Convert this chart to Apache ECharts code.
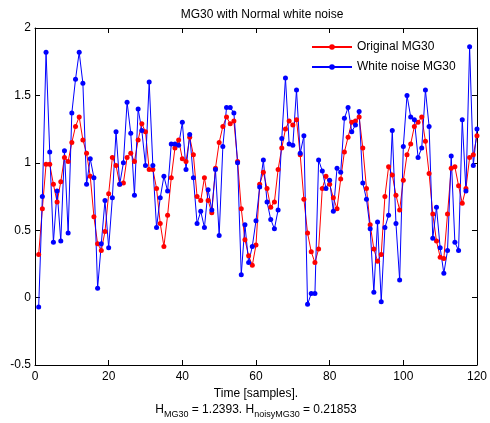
<!DOCTYPE html>
<html><head><meta charset="utf-8">
<script src="https://cdn.jsdelivr.net/npm/echarts@6/dist/echarts.min.js"></script>
<style>html,body{margin:0;padding:0;background:#fff}#c{width:490px;height:423px}</style>
</head><body><div id="c"></div>
<script>
const titleText = 'MG30 with Normal white noise';
const xAxisName = 'Time [samples].';
const seriesNames = ['Original MG30', 'White noise MG30'];
const xTicks = [0, 20, 40, 60, 80, 100, 120];
const yTicks = [-0.5, 0, 0.5, 1, 1.5, 2];
const entropyOriginal = '1.2393';
const entropyNoisy = '0.21853';

const original = [
  0.32, 0.66, 0.99, 0.99, 0.84, 0.71, 0.86, 1.04, 1.01, 1.15,
  1.27, 1.34, 1.17, 1.07, 0.90, 0.60, 0.40, 0.35, 0.49, 0.77,
  1.04, 0.98, 0.84, 0.85, 1.04, 1.07, 1.01, 1.17, 1.29, 1.23,
  0.95, 0.95, 0.81, 0.55, 0.38, 0.61, 0.89, 1.11, 1.17, 1.03,
  1.01, 1.19, 1.06, 0.75, 0.72, 0.89, 0.72, 0.63, 0.96, 1.15,
  1.27, 1.34, 1.29, 1.31, 1.01, 0.66, 0.43, 0.31, 0.24, 0.39,
  0.84, 0.93, 0.81, 0.67, 0.71, 0.95, 1.11, 1.25, 1.31, 1.28,
  1.32, 1.06, 0.73, 0.48, 0.34, 0.26, 0.36, 0.81, 0.90, 0.84,
  0.74, 0.66, 0.88, 1.08, 1.19, 1.30, 1.31, 1.34, 1.11, 0.81,
  0.54, 0.36, 0.27, 0.32, 0.75, 0.97, 0.91, 0.76, 0.65, 0.87,
  1.06, 1.14, 1.27, 1.30, 1.34, 1.16, 0.92, 0.62, 0.42, 0.30,
  0.29, 0.62, 0.96, 0.97, 0.83, 0.70, 0.81, 1.04, 1.06, 1.20
];
const noisy = [
  -0.07, 0.75, 1.82, 1.08, 0.41, 0.79, 0.42, 1.09, 0.48, 1.37,
  1.62, 1.82, 1.59, 0.84, 1.03, 0.89, 0.07, 0.40, 0.72, 0.37,
  0.74, 1.23, 0.84, 1.00, 1.45, 1.22, 0.76, 1.40, 1.24, 0.98,
  1.60, 0.98, 0.52, 0.74, 0.90, 0.79, 1.14, 1.14, 1.13, 1.30,
  0.95, 1.21, 0.89, 0.55, 0.64, 0.52, 0.80, 0.65, 0.95, 0.46,
  1.12, 1.41, 1.41, 1.37, 1.00, 0.17, 0.54, 0.26, 0.38, 0.57,
  0.82, 1.02, 0.71, 0.58, 0.51, 0.65, 1.18, 1.63, 1.14, 1.13,
  1.54, 1.07, 1.20, -0.05, 0.03, 0.03, 1.02, 0.94, 0.81, 0.87,
  0.64, 0.96, 0.93, 1.33, 1.41, 1.23, 1.28, 1.38, 0.85, 0.73,
  0.51, 0.04, 0.56, -0.03, 0.52, 0.61, 1.24, 0.55, 0.13, 1.12,
  1.50, 1.34, 1.32, 1.04, 1.11, 1.54, 1.27, 0.44, 0.67, 0.37,
  0.18, 0.35, 1.05, 0.41, 0.35, 1.32, 0.79, 1.86, 0.98, 1.25
];
const samples = original.map((_, i) => i + 1);

const FONT = '"Liberation Sans", Arial, Helvetica, sans-serif';
const FS = 12;
const chart = echarts.init(document.getElementById('c'), null, {renderer: 'canvas'});

function xAx(pos, showLabel) {
  return {
    type: 'value', position: pos, min: xTicks[0], max: xTicks[xTicks.length - 1], interval: 20,
    axisLine: {show: true, onZero: false, lineStyle: {color: '#000', width: 1}},
    axisTick: {show: true, inside: true, length: 5, lineStyle: {color: '#000'}},
    axisLabel: {show: showLabel, color: '#000', fontSize: FS, fontFamily: FONT, margin: 6},
    splitLine: {show: false},
    name: showLabel ? xAxisName : '', nameLocation: 'middle', nameGap: 22,
    nameTextStyle: {color: '#000', fontSize: FS, fontFamily: FONT}
  };
}
function yAx(pos, showLabel) {
  return {
    type: 'value', position: pos, min: yTicks[0], max: yTicks[yTicks.length - 1], interval: 0.5,
    axisLine: {show: true, onZero: false, lineStyle: {color: '#000', width: 1}},
    axisTick: {show: true, inside: true, length: 5, lineStyle: {color: '#000'}},
    axisLabel: {show: showLabel, color: '#000', fontSize: FS, fontFamily: FONT, margin: 4},
    splitLine: {show: false}
  };
}

const option = {
  animation: false,
  backgroundColor: '#fff',
  title: {
    text: titleText, left: 257, top: 4, textAlign: 'center',
    textStyle: {fontFamily: FONT, fontSize: FS, fontWeight: 'normal', color: '#000'}
  },
  grid: {left: 35, right: 11, top: 28, bottom: 58},
  legend: {
    orient: 'vertical', left: 306, top: 36, itemWidth: 40, itemHeight: 7, itemGap: 8,
    textStyle: {fontFamily: FONT, fontSize: FS, color: '#000'},
    data: seriesNames
  },
  xAxis: [xAx('bottom', true), xAx('top', false)],
  yAxis: [yAx('left', true), yAx('right', false)],
  series: [
    {
      name: seriesNames[0], type: 'line', data: samples.map((x, i) => [x, original[i]]),
      symbol: 'circle', symbolSize: 5, showSymbol: true,
      lineStyle: {color: '#ff0000', width: 1}, itemStyle: {color: '#ff0000'}
    },
    {
      name: seriesNames[1], type: 'line', data: samples.map((x, i) => [x, noisy[i]]),
      symbol: 'circle', symbolSize: 5, showSymbol: true,
      lineStyle: {color: '#0000ff', width: 1}, itemStyle: {color: '#0000ff'}
    }
  ],
  graphic: [{
    type: 'text', x: 256, y: 410,
    style: {
      text: '{n|H}{s|MG30}{n| = ' + entropyOriginal + '. H}{s|noisyMG30}{n| = ' + entropyNoisy + '}',
      align: 'center', verticalAlign: 'middle',
      rich: {
        n: {fontSize: FS, fontFamily: FONT, fill: '#000', color: '#000'},
        s: {fontSize: 9, fontFamily: FONT, fill: '#000', color: '#000', padding: [10, 0, 0, 0]}
      }
    }
  }]
};
chart.setOption(option);
</script>
</body></html>
